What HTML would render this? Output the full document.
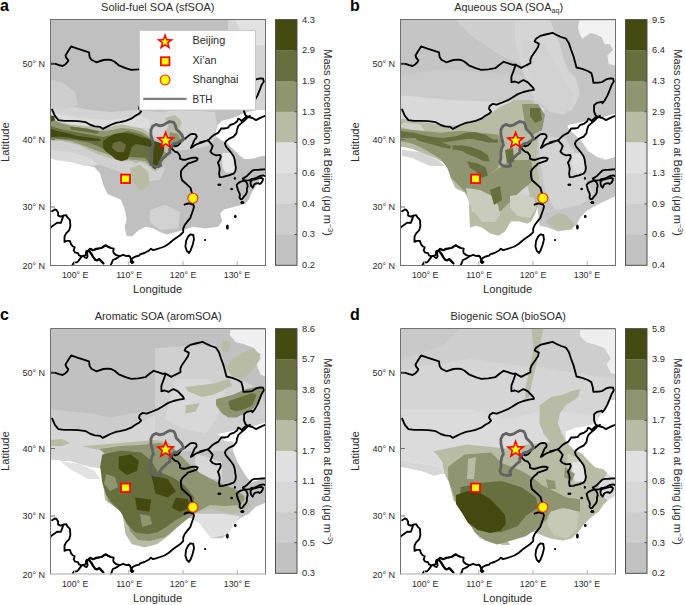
<!DOCTYPE html><html><head><meta charset="utf-8"><style>html,body{margin:0;padding:0;background:#fff;}svg{display:block;font-family:"Liberation Sans", sans-serif;}</style></head><body>
<svg width="685" height="605" viewBox="0 0 685 605">
<defs><clipPath id="clip"><rect x="50.5" y="19.5" width="215" height="246"/></clipPath>
<g id="mapcommon"><g fill="none" stroke="#000" stroke-width="1.85" stroke-linejoin="round" stroke-linecap="round">
<polyline points="50.0,63.9 52.8,63.7 55.6,63.9 59.1,65.1 62.6,66.0 65.5,64.2 67.6,61.8 68.3,60.4 66.2,57.6 65.5,55.5 67.6,52.0 71.1,46.4 78.1,48.8 83.7,50.6 89.0,52.3 89.6,56.9 91.4,59.7 96.3,62.3 103.4,60.0 107.6,59.7 111.1,60.0 114.6,61.8 118.8,65.3 125.6,68.2 131.2,69.8 138.3,69.3 145.3,68.2 149.5,64.7 153.7,61.8 157.9,63.2 162.1,64.7 165.7,64.7 171.3,67.9 176.2,65.3 180.4,63.2 180.4,59.7 181.8,56.2 185.3,51.3 188.1,47.1 188.8,43.6 184.6,41.5 186.0,38.7 190.2,35.9 195.6,34.5 202.6,32.8 206.9,35.2 211.1,37.0 216.0,38.7 218.8,42.9 220.9,49.2 223.7,56.9 226.5,67.5 232.2,68.9 237.8,71.0 241.3,73.1 242.7,78.0 243.4,82.9 249.0,82.5 251.8,82.2 256.0,79.4 260.2,78.3 263.1,78.7 263.8,81.5 261.6,85.0 259.5,90.7 257.4,95.6 254.6,100.5 252.5,103.3 251.8,101.8 246.9,102.9 244.1,105.3 244.1,111.6 245.5,115.2 248.3,117.0"/>
<polyline points="248.3,117.0 252.5,118.0 256.0,120.1 258.8,118.7 263.1,116.6 266.0,115.6"/>
<polyline points="165.7,64.7 163.5,71.0 161.4,76.6 161.4,82.2 164.9,81.5 168.5,82.9 170.6,81.5 173.4,80.1 177.6,82.2 180.4,85.0 183.2,87.8 183.9,89.9 179.0,90.6 173.4,92.0 167.8,94.1 162.1,97.7 158.6,99.8 152.3,102.5 146.7,104.6 142.5,103.9 139.7,106.0 139.0,108.8 141.1,111.6 139.0,113.8 135.4,115.8 131.2,118.7 125.6,120.8 120.0,122.2 116.0,122.9 110.4,125.0 106.2,127.1 102.7,128.8 99.9,126.8 94.9,126.4 90.7,125.0 85.8,122.2 78.1,121.2 71.1,120.8 64.0,120.8 58.4,120.1 54.9,115.8 52.1,109.5"/>
<polyline points="208.1,140.3 211.6,136.8 215.1,134.3 218.5,132.6 221.4,128.3 224.3,128.5 227.8,127.9 230.1,125.0 233.6,123.9 237.0,121.6 238.2,118.7 239.9,119.3 241.7,121.0 244.6,118.1 246.3,116.7"/>
<polyline points="208.1,140.3 211.0,143.6 212.7,145.9 211.6,148.8 210.4,151.7 212.7,154.0 216.2,155.4 220.2,154.9 220.8,156.9 219.7,159.8 217.9,162.7 219.1,165.6 219.7,169.0 219.1,173.7 219.7,177.1 223.2,176.9 225.5,176.2 228.9,175.4 233.6,173.7 235.3,171.3 235.9,167.9 235.3,164.4 234.7,159.8 233.6,156.3 231.2,152.8 228.9,149.9 226.0,146.5 224.9,143.6 226.0,141.2 228.9,138.9 233.6,136.6 236.5,133.2 237.0,129.7 238.2,126.2 240.5,123.9 244.0,121.0 247.4,117.5 250.0,115.8"/>
<polyline points="208.1,140.3 204.6,141.2 200.0,142.4 204.7,141.3 200.7,142.8 197.7,143.8 194.8,145.3 192.8,146.8 190.8,147.8 191.8,145.8 192.8,143.8 193.8,141.3 194.8,139.3 196.2,138.3 196.7,136.4 195.7,134.4 192.8,133.9 190.3,134.4 187.8,136.4 184.3,139.3 181.4,140.8 179.9,143.3 177.9,145.3 175.4,146.3 173.4,145.3 171.4,146.3 171.9,148.8 174.9,151.7 177.9,152.7 179.9,155.7 179.9,158.7 182.4,159.7 185.8,159.7 188.8,158.7 192.8,157.7 195.7,157.7 197.7,158.7 196.7,160.7 193.8,161.7 190.8,162.7 187.8,163.6 186.3,165.6 184.8,166.6 182.8,168.6 180.9,171.6 180.9,175.5 181.9,180.0 190.4,187.6 191.8,192.7 192.6,197.0 192.6,203.4 194.0,206.3 193.3,209.2 191.8,213.5 190.4,217.8 187.5,221.4 184.7,225.0 183.2,228.6 183.2,232.2 180.3,235.0 176.0,237.9 173.2,240.1 168.8,243.7 164.5,246.5 160.2,248.0 155.9,249.4 153.1,250.1 150.9,248.7 148.7,250.8 144.4,253.0 140.1,254.4 139.1,255.7 135.6,256.5 132.9,257.9 131.6,259.2 132.0,260.9 133.4,262.2 132.0,263.1 130.7,261.8 131.2,260.0 130.7,258.3 129.8,256.5 128.5,255.7 126.8,256.1 125.0,255.7 123.3,254.8 119.8,256.1 117.2,257.9 115.0,259.2 112.8,260.0 111.9,262.7 111.0,264.4 110.6,266.0"/>
<polyline points="129.8,256.5 128.5,255.7"/>
<polyline points="119.8,256.1 116.3,255.2 113.7,253.0 113.2,251.3 113.7,248.7 110.2,247.8 107.5,246.5 105.8,245.6 104.0,246.5 101.4,248.2 96.1,248.7 93.5,250.0 90.0,248.7 88.1,250.8 85.9,252.3 85.9,255.2 83.0,255.9"/>
<polyline points="90.0,252.2 91.8,253.9 93.5,257.4 95.3,260.0 97.0,260.5 98.8,259.2 100.5,260.0 102.3,261.8 103.6,263.5"/>
<polyline points="52.1,211.3 54.8,209.5 56.5,209.9 58.1,212.4 58.1,215.6 60.8,216.7 63.4,215.6 66.1,215.1 67.7,217.7 69.9,219.9 70.4,225.8 69.3,230.1 66.1,233.3 64.5,236.6 64.5,241.9 67.2,240.9 69.9,240.9 71.0,244.1 72.6,246.2 74.7,247.3 73.7,250.5 75.3,252.7 78.0,253.2 79.0,255.4 81.7,256.4 83.3,255.9 85.0,257.5 86.6,258.1 87.6,256.4 87.1,252.7 86.6,251.1"/>
<polyline points="50.0,229.0 51.1,226.9 54.3,224.7 57.5,222.6 60.8,222.8 61.8,220.4 63.4,215.6"/>
<polyline points="81.7,256.4 80.1,258.6 78.5,260.8 76.9,262.4 74.2,262.4 72.6,264.5"/>
<polyline points="87.1,251.4 89.8,251.6 90.9,253.8 93.0,257.0 95.2,259.7 97.3,260.2 99.5,258.9 100.5,260.8 103.2,263.4"/>
<polyline points="86.6,251.1 88.7,250.5 90.9,249.5 93.0,250.5 95.2,249.5 97.3,248.9 101.6,247.8 103.8,246.2 105.9,245.2 108.1,246.8 110.0,247.3"/>
<polyline points="264.7,169.3 261.4,169.5 258.1,169.9 254.8,169.9 252.3,170.7 249.8,173.2 247.3,175.7 244.8,177.4 242.8,178.6 244.0,180.2 246.5,180.7 249.8,180.2 251.4,179.0 253.9,178.6 256.4,177.8 258.9,176.5 261.4,175.7 263.8,175.5 265.1,176.1"/>
<polyline points="184.5,204.7 186.0,204.0 188.2,203.5 190.0,203.7 192.0,204.4"/>
<polygon points="190.4,234.3 193.3,235.0 194.0,239.3 192.6,245.1 190.4,250.8 189.0,253.0 186.8,250.8 185.4,246.5 186.1,240.8 188.2,236.5"/>
<polygon points="236.6,184.8 238.2,183.1 240.3,181.9 242.4,181.1 244.8,180.7 246.5,182.3 247.3,184.0 247.7,186.4 246.9,188.9 246.9,192.2 245.7,194.7 244.0,196.4 242.4,198.8 240.7,199.3 239.5,197.6 239.9,194.7 239.1,192.2 238.2,190.6 237.4,188.1"/>
<polygon points="250.6,181.5 252.3,179.8 254.8,179.4 257.2,178.6 259.7,178.2 261.4,177.8 263.0,179.0 262.6,180.7 261.4,182.7 259.7,184.0 258.1,183.1 255.6,183.6 253.9,184.8 252.7,187.7 251.4,186.4 250.6,184.0"/>
</g>
<g fill="#000">
<ellipse cx="219.4" cy="184.8" rx="2.0" ry="1.2"/>
<ellipse cx="231.7" cy="189.1" rx="1.2" ry="1.2"/>
<ellipse cx="235.3" cy="216.4" rx="1.3" ry="1.6"/>
<ellipse cx="227.4" cy="227.1" rx="1.4" ry="2.6"/>
<ellipse cx="205.1" cy="240.1" rx="1.1" ry="1.1"/>
<ellipse cx="242.4" cy="202.3" rx="1.6" ry="1.2"/>
<ellipse cx="234.9" cy="178.2" rx="1.0" ry="1.5"/>
<ellipse cx="231.6" cy="188.9" rx="1.1" ry="1.1"/>
<ellipse cx="242.4" cy="202.8" rx="2.0" ry="1.2"/>
</g>
<polygon points="150.9,129.9 152.9,125.9 155.9,124.4 159.8,125.9 163.8,124.9 166.8,122.9 169.8,121.5 173.7,122.4 175.2,124.9 176.2,128.9 178.7,131.4 181.7,134.8 183.6,138.8 180.7,140.8 177.7,142.8 173.7,143.8 171.7,145.7 169.8,148.7 169.8,152.7 166.8,154.7 164.8,156.7 161.8,159.6 159.8,162.6 160.8,165.6 158.8,166.6 153.9,166.1 150.9,164.6 149.9,161.6 150.9,158.6 150.9,152.7 151.9,147.7 153.4,145.2 152.9,142.8 151.9,138.8 150.9,134.8" fill="none" stroke="#626262" stroke-width="2.8" stroke-linejoin="round"/>
<polygon points="165.6,130.1 168.1,137.0 175.5,137.3 169.7,141.8 171.7,148.9 165.6,144.8 159.5,148.9 161.5,141.8 155.7,137.3 163.1,137.0" fill="#ff0000"/>
<polygon points="165.6,134.9 167.1,138.4 170.9,138.8 168.1,141.3 168.9,145.0 165.6,143.1 162.3,145.0 163.1,141.3 160.3,138.8 164.1,138.4" fill="#ffff00"/>
<rect x="121.1" y="174.6" width="8.9" height="8.4" fill="#ffff00" stroke="#ff0000" stroke-width="1.8"/>
<circle cx="192.9" cy="198.2" r="5.0" fill="#ffff00" stroke="#ff2000" stroke-width="1.1"/></g></defs>
<g transform="translate(0,0)">
<text x="0" y="11" font-size="16" font-weight="bold" fill="#000">a</text>
<text x="101.1" y="11.2" font-size="10.6" textLength="113.3" lengthAdjust="spacingAndGlyphs" fill="#2b2b2b">Solid-fuel SOA (sfSOA)</text>
<g clip-path="url(#clip)">
<rect x="50.5" y="19.5" width="215" height="246" fill="#c0c0c0"/>
<polygon points="50.0,104.0 70.0,106.0 90.0,110.0 110.0,112.0 140.0,110.0 160.0,112.0 180.0,110.0 215.0,112.0 217.0,125.0 214.0,134.0 216.0,137.0 210.0,145.0 200.0,148.0 185.0,150.0 175.0,150.0 160.0,140.0 140.0,135.0 100.0,135.0 50.0,130.0" fill="#d3d3d3"/>
<polygon points="50.0,112.0 80.0,118.0 110.0,120.0 140.0,116.0 150.0,120.0 150.0,128.0 100.0,128.0 50.0,124.0" fill="#dcdcdc"/>
<polygon points="50.0,135.0 100.0,150.0 125.0,158.0 150.0,165.0 165.0,168.0 160.0,180.0 140.0,182.0 120.0,172.0 100.0,165.0 80.0,158.0 50.0,152.0" fill="#d0d0d0"/>
<polygon points="228.0,19.0 266.0,19.0 266.0,110.0 256.0,110.0 256.0,30.0 228.0,30.0" fill="#d4d4d4"/>
<polygon points="235.0,19.0 266.0,19.0 266.0,45.0 256.0,45.0 256.0,30.0 240.0,30.0" fill="#e2e2e2"/>
<polygon points="50.0,80.0 62.0,82.0 75.0,92.0 78.0,105.0 65.0,108.0 50.0,106.0" fill="#cdcdcd"/>
<polygon points="50.0,155.0 59.6,157.0 78.7,164.0 94.1,167.0 99.8,173.0 103.7,186.0 107.5,194.0 120.9,199.8 124.7,209.4 126.7,219.0 124.7,226.7 126.7,236.2 132.4,236.2 138.2,230.5 145.8,226.7 153.5,228.6 160.0,232.0 166.5,234.4 181.8,230.5 193.3,226.7 204.8,228.6 218.3,226.7 222.1,220.9 220.2,213.3 224.0,209.4 231.7,207.5 239.4,205.6 245.1,203.7 248.9,199.8 250.9,194.1 254.7,188.3 260.4,178.8 266.0,173.0 266.0,266.0 50.0,266.0" fill="#ffffff"/>
<polygon points="50.0,150.0 70.0,152.0 90.0,158.0 98.0,165.0 85.0,166.0 70.0,162.0 55.0,160.0 50.0,158.0" fill="#dadada"/>
<polygon points="150.0,210.0 165.0,205.0 180.0,212.0 178.0,228.0 160.0,230.0 150.0,222.0" fill="#d2d2d2"/>
<polygon points="217.8,124.9 222.3,120.4 229.7,118.9 237.2,115.9 244.6,113.0 249.0,111.5 256.0,110.0 266.0,110.0 266.0,156.1 262.4,156.1 256.5,157.6 250.5,159.1 244.6,159.1 240.1,156.1 235.7,151.6 231.2,147.2 226.8,142.7 220.8,139.7 216.4,136.8 214.9,133.8 216.4,129.3" fill="#ffffff"/>
<polygon points="222.3,153.1 232.7,153.1 235.7,166.5 234.2,172.4 225.3,172.4 222.3,166.5" fill="#e6e6e6"/>
<polygon points="50.0,114.3 56.1,120.4 62.3,122.5 70.4,124.5 80.7,125.5 90.9,126.6 101.1,128.6 111.3,126.6 121.5,124.5 131.7,126.6 142.0,128.6 152.2,134.7 156.3,140.9 164.4,149.0 170.6,151.1 172.6,153.1 168.5,157.2 164.4,161.3 160.4,167.4 156.3,171.5 152.2,169.5 148.1,165.4 142.0,161.3 135.8,163.4 131.7,161.3 123.6,161.3 115.4,159.3 107.2,157.2 101.1,155.2 95.0,153.1 86.8,149.0 78.6,145.0 70.4,142.9 62.3,140.9 54.1,140.9 50.0,139.9" fill="#b8bca4"/>
<polygon points="165.0,118.0 175.0,115.0 182.0,122.0 178.0,132.0 170.0,130.0" fill="#b8bca4"/>
<polygon points="130.0,168.0 140.0,165.0 148.0,172.0 150.0,185.0 140.0,190.0 132.0,180.0" fill="#b8bca4"/>
<polygon points="50.0,118.0 60.0,123.0 75.0,127.0 90.0,129.0 101.0,131.0 112.0,130.0 122.0,128.0 132.0,129.0 142.0,132.0 150.0,137.0 156.0,143.0 163.0,150.0 167.0,154.0 163.0,160.0 158.0,167.0 152.0,166.0 145.0,161.0 135.0,160.0 124.0,159.0 114.0,157.0 104.0,153.0 95.0,150.0 85.0,146.0 70.0,141.0 55.0,139.0 50.0,139.0" fill="#8e9570"/>
<polygon points="50.0,126.0 60.0,129.0 75.0,132.0 92.0,135.0 103.0,137.0 115.0,134.0 128.0,131.0 140.0,134.0 150.0,139.0 157.0,146.0 162.0,152.0 158.0,162.0 153.0,165.0 145.0,158.0 132.0,157.0 122.0,158.0 110.0,154.0 100.0,147.0 90.0,143.0 75.0,140.0 60.0,139.0 50.0,138.0" fill="#686f3e"/>
<polygon points="168.0,126.0 178.0,128.0 184.0,134.0 184.0,142.0 178.0,147.0 170.0,150.0 164.0,146.0 165.0,134.0" fill="#b8bca4"/>
<polygon points="170.0,132.0 178.0,134.0 181.0,140.0 175.0,145.0 168.0,143.0" fill="#8e9570"/>
<polygon points="50.0,128.6 56.1,130.7 66.3,132.7 76.6,135.8 90.9,137.8 99.1,138.8 101.1,140.9 90.9,140.9 80.7,139.9 70.4,137.8 60.2,136.8 50.0,136.8" fill="#434a10"/>
<polygon points="50.0,115.3 54.1,116.3 55.1,120.4 50.0,121.5" fill="#434a10"/>
<polygon points="103.1,140.9 109.3,136.8 115.4,133.7 123.6,132.7 131.7,133.7 139.9,136.8 148.1,138.8 152.2,140.9 154.2,145.0 150.1,147.0 142.0,145.0 135.8,143.9 131.7,147.0 129.7,153.1 127.7,159.3 121.5,161.3 115.4,159.3 111.3,155.2 105.2,151.1 103.1,147.0" fill="#434a10"/>
<polygon points="113.0,143.0 120.0,141.0 126.0,145.0 124.0,152.0 117.0,152.0 112.0,148.0" fill="#686f3e"/>
<polygon points="154.2,140.9 160.4,142.9 164.4,147.0 163.4,153.1 160.4,159.3 158.3,165.4 155.3,169.5 152.2,167.4 153.2,159.3 153.2,151.1" fill="#434a10"/>
<polygon points="70.4,126.6 86.8,128.6 99.1,131.7 97.0,133.7 84.7,131.7 70.4,129.6" fill="#686f3e"/>
<use href="#mapcommon"/>
</g>
<g stroke="#707070" stroke-width="1">
<line x1="50.5" y1="64" x2="55" y2="64"/>
<line x1="50.5" y1="139.5" x2="55" y2="139.5"/>
<line x1="50.5" y1="207" x2="55" y2="207"/>
<line x1="74.5" y1="265.5" x2="74.5" y2="261" stroke="#b0b0b0"/>
<line x1="128.7" y1="265.5" x2="128.7" y2="261" stroke="#b0b0b0"/>
<line x1="183" y1="265.5" x2="183" y2="261" stroke="#b0b0b0"/>
<line x1="237.3" y1="265.5" x2="237.3" y2="261" stroke="#b0b0b0"/>
</g>
<rect x="50.5" y="19.5" width="215" height="246" fill="none" stroke="#707070" stroke-width="1"/>
<text x="45" y="67.2" font-size="9" text-anchor="end" fill="#2b2b2b">50° N</text>
<text x="45" y="143.2" font-size="9" text-anchor="end" fill="#2b2b2b">40° N</text>
<text x="45" y="210.2" font-size="9" text-anchor="end" fill="#2b2b2b">30° N</text>
<text x="45" y="269.2" font-size="9" text-anchor="end" fill="#2b2b2b">20° N</text>
<text x="75.2" y="277.6" font-size="8.8" text-anchor="middle" fill="#2b2b2b">100° E</text>
<text x="129.3" y="277.6" font-size="8.8" text-anchor="middle" fill="#2b2b2b">110° E</text>
<text x="183.1" y="277.6" font-size="8.8" text-anchor="middle" fill="#2b2b2b">120° E</text>
<text x="237" y="277.6" font-size="8.8" text-anchor="middle" fill="#2b2b2b">130° E</text>
<text x="133.0" y="292.8" font-size="10.4" textLength="49.2" lengthAdjust="spacingAndGlyphs" fill="#2b2b2b">Longitude</text>
<text transform="translate(9.1,161.9) rotate(-90)" font-size="10.4" textLength="39.6" lengthAdjust="spacingAndGlyphs" fill="#2b2b2b">Latitude</text>
<rect x="275.5" y="19.60" width="21.5" height="31.01" fill="#434a10"/>
<rect x="275.5" y="50.31" width="21.5" height="31.01" fill="#686f3e"/>
<rect x="275.5" y="81.03" width="21.5" height="31.01" fill="#8e9570"/>
<rect x="275.5" y="111.74" width="21.5" height="31.01" fill="#b8bca4"/>
<rect x="275.5" y="142.45" width="21.5" height="31.01" fill="#e1e1e1"/>
<rect x="275.5" y="173.16" width="21.5" height="31.01" fill="#d7d7d7"/>
<rect x="275.5" y="203.88" width="21.5" height="31.01" fill="#cdcdcd"/>
<rect x="275.5" y="234.59" width="21.5" height="31.01" fill="#c2c2c2"/>
<rect x="275.5" y="19.6" width="21.5" height="245.7" fill="none" stroke="#505050" stroke-width="1"/>
<line x1="294.5" y1="50.31" x2="297" y2="50.31" stroke="#505050" stroke-width="1"/>
<line x1="294.5" y1="81.03" x2="297" y2="81.03" stroke="#505050" stroke-width="1"/>
<line x1="294.5" y1="111.74" x2="297" y2="111.74" stroke="#505050" stroke-width="1"/>
<line x1="294.5" y1="142.45" x2="297" y2="142.45" stroke="#505050" stroke-width="1"/>
<line x1="294.5" y1="173.16" x2="297" y2="173.16" stroke="#505050" stroke-width="1"/>
<line x1="294.5" y1="203.88" x2="297" y2="203.88" stroke="#505050" stroke-width="1"/>
<line x1="294.5" y1="234.59" x2="297" y2="234.59" stroke="#505050" stroke-width="1"/>
<text x="302" y="22.50" font-size="9.3" fill="#2b2b2b">4.3</text>
<text x="302" y="53.21" font-size="9.3" fill="#2b2b2b">2.9</text>
<text x="302" y="83.93" font-size="9.3" fill="#2b2b2b">1.9</text>
<text x="302" y="114.64" font-size="9.3" fill="#2b2b2b">1.3</text>
<text x="302" y="145.35" font-size="9.3" fill="#2b2b2b">0.9</text>
<text x="302" y="176.06" font-size="9.3" fill="#2b2b2b">0.6</text>
<text x="302" y="206.78" font-size="9.3" fill="#2b2b2b">0.4</text>
<text x="302" y="237.49" font-size="9.3" fill="#2b2b2b">0.3</text>
<text x="302" y="268.20" font-size="9.3" fill="#2b2b2b">0.2</text>
<text transform="translate(324.0,49.3) rotate(90)" font-size="10.4" textLength="186.6" lengthAdjust="spacingAndGlyphs" fill="#2b2b2b">Mass concentration at Beijing (μg m<tspan font-size="7" dy="-3.5">−3</tspan><tspan dy="3.5">)</tspan></text>
<rect x="139.5" y="30.5" width="116" height="79.5" fill="#fff" stroke="#c8c8c8" stroke-width="1"/>
<polygon points="165.1,33.0 167.3,39.0 173.7,39.2 168.6,43.1 170.4,49.3 165.1,45.7 159.8,49.3 161.6,43.1 156.5,39.2 162.9,39.0" fill="#ff0000"/>
<polygon points="165.1,37.6 166.3,40.4 169.3,40.6 167.0,42.6 167.7,45.6 165.1,44.0 162.5,45.6 163.2,42.6 160.9,40.6 163.9,40.4" fill="#ffff00"/>
<rect x="160.9" y="57.2" width="8.6" height="8.2" fill="#ffff00" stroke="#ff0000" stroke-width="1.7"/>
<circle cx="165.1" cy="79.9" r="4.9" fill="#ffff00" stroke="#ff2000" stroke-width="1.1"/>
<line x1="143.2" y1="98.9" x2="186.6" y2="98.9" stroke="#808080" stroke-width="2.2"/>
<text x="192.6" y="44.2" font-size="10.4" textLength="32.6" lengthAdjust="spacingAndGlyphs" fill="#2b2b2b">Beijing</text>
<text x="192.6" y="63.7" font-size="10.4" textLength="24.0" lengthAdjust="spacingAndGlyphs" fill="#2b2b2b">Xi’an</text>
<text x="192.6" y="83.2" font-size="10.4" textLength="45.9" lengthAdjust="spacingAndGlyphs" fill="#2b2b2b">Shanghai</text>
<text x="192.6" y="102.5" font-size="10.4" textLength="19.8" lengthAdjust="spacingAndGlyphs" fill="#2b2b2b">BTH</text>
</g>
<g transform="translate(350,0)">
<text x="0" y="11" font-size="16" font-weight="bold" fill="#000">b</text>
<text x="104.2" y="11.2" font-size="10.6" textLength="108.8" lengthAdjust="spacingAndGlyphs" fill="#2b2b2b">Aqueous SOA (SOA<tspan font-size="7" dy="2.2">aq</tspan><tspan dy="-2.2">)</tspan></text>
<g clip-path="url(#clip)">
<rect x="50.5" y="19.5" width="215" height="246" fill="#c0c0c0"/>
<polygon points="50.0,19.0 266.0,19.0 266.0,266.0 50.0,266.0" fill="#c5c5c5"/>
<polygon points="105.0,19.0 190.0,19.0 200.0,60.0 185.0,70.0 150.0,55.0 120.0,35.0" fill="#cfcfcf"/>
<polygon points="50.0,75.0 90.0,70.0 130.0,72.0 170.0,75.0 190.0,85.0 200.0,100.0 180.0,112.0 140.0,112.0 100.0,112.0 50.0,110.0" fill="#cbcbcb"/>
<polygon points="50.0,95.0 100.0,100.0 150.0,102.0 175.0,100.0 195.0,108.0 190.0,125.0 150.0,128.0 100.0,125.0 50.0,125.0" fill="#d9d9d9"/>
<polygon points="165.0,19.0 200.0,19.0 205.0,33.0 210.0,45.0 214.0,60.0 218.0,70.0 226.0,78.0 230.0,95.0 222.0,110.0 205.0,112.0 185.0,100.0 172.0,70.0 165.0,40.0" fill="#d5d5d5"/>
<polygon points="229.3,20.4 264.5,20.4 266.0,20.0 266.0,65.4 258.8,64.0 257.4,55.5 263.0,49.9 260.2,44.3 254.6,44.3 251.8,37.3 246.2,34.5 240.6,33.0 232.1,38.7 229.3,33.0 227.9,27.4" fill="#f2f2f2"/>
<polygon points="170.0,40.0 195.0,45.0 205.0,65.0 215.0,80.0 225.0,95.0 215.0,115.0 200.0,112.0 185.0,95.0" fill="#d2d2d2"/>
<polygon points="188.0,135.0 215.0,138.0 230.0,160.0 236.0,180.0 245.0,195.0 230.0,205.0 205.0,210.0 195.0,190.0 190.0,160.0" fill="#d3d3d3"/>
<polygon points="50.0,146.2 61.6,148.6 73.1,153.2 84.7,157.8 93.9,162.4 98.6,169.4 100.9,178.6 105.5,187.9 114.7,192.5 119.0,200.0 120.0,227.4 126.1,225.4 132.3,227.4 140.4,233.6 148.6,235.6 154.7,231.5 160.9,221.3 169.0,221.3 177.2,223.4 181.3,221.3 185.4,213.1 187.4,207.0 189.5,225.4 197.7,227.4 207.9,231.5 218.1,229.5 226.3,225.4 230.4,217.2 236.5,211.1 246.7,205.0 260.0,198.8 266.0,196.0 266.0,266.0 50.0,266.0" fill="#ffffff"/>
<polygon points="52.0,150.0 70.0,152.0 88.0,160.0 95.0,166.0 80.0,166.0 62.0,158.0 52.0,156.0" fill="#d5d5d5"/>
<polygon points="217.8,124.9 232.3,122.0 246.8,119.1 266.0,113.2 266.0,156.8 255.5,159.7 246.8,156.8 238.1,151.0 232.3,142.3 223.6,133.6 217.8,127.8" fill="#ffffff"/>
<polygon points="222.3,153.1 232.7,153.1 235.7,166.5 234.2,172.4 225.3,172.4 222.3,166.5" fill="#dedede"/>
<polygon points="50.0,118.4 62.3,120.4 74.5,122.5 90.9,124.5 103.1,128.6 111.3,125.5 121.5,122.5 131.7,118.4 139.9,114.3 148.1,108.2 156.3,104.1 164.4,100.0 180.8,100.0 190.0,108.2 190.0,125.0 188.0,140.0 186.0,160.0 190.0,185.0 192.0,196.0 187.4,207.0 185.4,213.1 181.3,221.3 177.2,223.4 169.0,221.3 160.9,221.3 154.7,231.5 148.6,235.6 140.4,233.6 132.3,227.4 126.1,225.4 120.0,227.4 119.0,200.0 114.7,192.5 105.5,187.9 100.9,178.6 98.6,169.4 93.9,162.4 84.7,157.8 73.1,153.2 61.6,148.6 50.0,146.2" fill="#b8bca4"/>
<polygon points="195.6,221.3 207.9,213.1 216.1,215.2 224.2,223.4 222.2,229.5 212.0,230.5 201.7,227.4" fill="#b8bca4"/>
<polygon points="54.1,122.5 70.4,124.5 74.5,130.7 62.3,130.7 50.0,126.6" fill="#cfd1c6"/>
<polygon points="120.0,188.0 132.0,190.0 130.0,210.0 122.0,212.0" fill="#d2d2d2"/>
<polygon points="160.0,185.0 175.0,178.0 180.0,195.0 170.0,200.0" fill="#d6d6d6"/>
<polygon points="50.0,128.6 70.4,130.7 90.9,132.7 111.3,130.7 131.7,132.7 148.1,134.7 152.2,140.9 150.1,157.2 148.1,167.4 135.8,177.7 127.7,185.8 117.4,189.9 160.9,160.0 181.3,160.0 183.4,180.4 171.1,190.7 160.9,200.9 150.7,211.1 136.3,211.1 126.1,200.9 120.0,196.8 101.1,177.7 97.0,167.4 90.9,159.3 80.7,153.1 70.4,147.0 60.2,142.9 50.0,140.9" fill="#8e9570"/>
<polygon points="172.0,104.0 188.0,104.0 195.0,115.0 192.0,130.0 182.0,135.0 175.0,125.0" fill="#8e9570"/>
<polygon points="116.0,188.0 130.0,190.0 142.0,196.0 148.0,205.0 150.0,215.0 145.0,222.0 132.0,222.0 124.0,212.0 118.0,200.0" fill="#c9ccbc"/>
<polygon points="160.0,196.0 172.0,194.0 184.0,198.0 186.0,208.0 180.0,218.0 168.0,216.0 160.0,208.0" fill="#cdcfc3"/>
<polygon points="50.0,131.0 64.0,132.8 78.0,136.3 93.8,138.0 106.0,136.3 116.6,132.8 125.3,131.9 134.1,135.4 141.1,138.9 148.1,139.8 148.1,142.4 141.1,142.4 134.1,140.7 125.3,138.0 116.6,138.9 106.0,140.7 93.8,142.4 78.0,140.7 64.0,138.0 50.0,138.0" fill="#686f3e"/>
<polygon points="102.6,145.0 116.6,146.8 127.1,149.4 134.1,153.8 132.3,157.3 125.3,153.8 114.8,151.2 102.6,149.4" fill="#686f3e"/>
<polygon points="66.3,135.8 80.7,138.8 90.9,141.9 101.1,146.0 100.1,149.0 90.9,147.0 80.7,143.9 66.3,139.9" fill="#686f3e"/>
<polygon points="111.3,134.7 123.6,132.7 135.8,134.7 142.0,138.8 139.9,142.9 131.7,140.9 121.5,138.8 113.4,138.8" fill="#686f3e"/>
<polygon points="109.3,145.0 121.5,147.0 131.7,151.1 137.9,155.2 139.9,161.3 133.8,161.3 125.6,157.2 115.4,153.1 109.3,149.0" fill="#686f3e"/>
<polygon points="117.4,161.3 127.7,163.4 135.8,167.4 137.9,175.6 131.7,177.7 125.6,171.5 119.5,167.4" fill="#686f3e"/>
<polygon points="180.0,108.0 190.0,108.0 192.0,120.0 185.0,123.0 180.0,116.0" fill="#686f3e"/>
<polygon points="155.0,150.0 163.0,148.0 164.0,162.0 157.0,163.0" fill="#686f3e"/>
<polygon points="140.0,190.0 150.0,186.0 152.0,200.0 144.0,205.0" fill="#686f3e"/>
<use href="#mapcommon"/>
</g>
<g stroke="#707070" stroke-width="1">
<line x1="50.5" y1="64" x2="55" y2="64"/>
<line x1="50.5" y1="139.5" x2="55" y2="139.5"/>
<line x1="50.5" y1="207" x2="55" y2="207"/>
<line x1="74.5" y1="265.5" x2="74.5" y2="261" stroke="#b0b0b0"/>
<line x1="128.7" y1="265.5" x2="128.7" y2="261" stroke="#b0b0b0"/>
<line x1="183" y1="265.5" x2="183" y2="261" stroke="#b0b0b0"/>
<line x1="237.3" y1="265.5" x2="237.3" y2="261" stroke="#b0b0b0"/>
</g>
<rect x="50.5" y="19.5" width="215" height="246" fill="none" stroke="#707070" stroke-width="1"/>
<text x="45" y="67.2" font-size="9" text-anchor="end" fill="#2b2b2b">50° N</text>
<text x="45" y="143.2" font-size="9" text-anchor="end" fill="#2b2b2b">40° N</text>
<text x="45" y="210.2" font-size="9" text-anchor="end" fill="#2b2b2b">30° N</text>
<text x="45" y="269.2" font-size="9" text-anchor="end" fill="#2b2b2b">20° N</text>
<text x="75.2" y="277.6" font-size="8.8" text-anchor="middle" fill="#2b2b2b">100° E</text>
<text x="129.3" y="277.6" font-size="8.8" text-anchor="middle" fill="#2b2b2b">110° E</text>
<text x="183.1" y="277.6" font-size="8.8" text-anchor="middle" fill="#2b2b2b">120° E</text>
<text x="237" y="277.6" font-size="8.8" text-anchor="middle" fill="#2b2b2b">130° E</text>
<text x="133.0" y="292.8" font-size="10.4" textLength="49.2" lengthAdjust="spacingAndGlyphs" fill="#2b2b2b">Longitude</text>
<text transform="translate(9.1,161.9) rotate(-90)" font-size="10.4" textLength="39.6" lengthAdjust="spacingAndGlyphs" fill="#2b2b2b">Latitude</text>
<rect x="275.5" y="19.60" width="21.5" height="31.01" fill="#434a10"/>
<rect x="275.5" y="50.31" width="21.5" height="31.01" fill="#686f3e"/>
<rect x="275.5" y="81.03" width="21.5" height="31.01" fill="#8e9570"/>
<rect x="275.5" y="111.74" width="21.5" height="31.01" fill="#b8bca4"/>
<rect x="275.5" y="142.45" width="21.5" height="31.01" fill="#e1e1e1"/>
<rect x="275.5" y="173.16" width="21.5" height="31.01" fill="#d7d7d7"/>
<rect x="275.5" y="203.88" width="21.5" height="31.01" fill="#cdcdcd"/>
<rect x="275.5" y="234.59" width="21.5" height="31.01" fill="#c2c2c2"/>
<rect x="275.5" y="19.6" width="21.5" height="245.7" fill="none" stroke="#505050" stroke-width="1"/>
<line x1="294.5" y1="50.31" x2="297" y2="50.31" stroke="#505050" stroke-width="1"/>
<line x1="294.5" y1="81.03" x2="297" y2="81.03" stroke="#505050" stroke-width="1"/>
<line x1="294.5" y1="111.74" x2="297" y2="111.74" stroke="#505050" stroke-width="1"/>
<line x1="294.5" y1="142.45" x2="297" y2="142.45" stroke="#505050" stroke-width="1"/>
<line x1="294.5" y1="173.16" x2="297" y2="173.16" stroke="#505050" stroke-width="1"/>
<line x1="294.5" y1="203.88" x2="297" y2="203.88" stroke="#505050" stroke-width="1"/>
<line x1="294.5" y1="234.59" x2="297" y2="234.59" stroke="#505050" stroke-width="1"/>
<text x="302" y="22.50" font-size="9.3" fill="#2b2b2b">9.5</text>
<text x="302" y="53.21" font-size="9.3" fill="#2b2b2b">6.4</text>
<text x="302" y="83.93" font-size="9.3" fill="#2b2b2b">4.3</text>
<text x="302" y="114.64" font-size="9.3" fill="#2b2b2b">2.9</text>
<text x="302" y="145.35" font-size="9.3" fill="#2b2b2b">1.9</text>
<text x="302" y="176.06" font-size="9.3" fill="#2b2b2b">1.3</text>
<text x="302" y="206.78" font-size="9.3" fill="#2b2b2b">0.9</text>
<text x="302" y="237.49" font-size="9.3" fill="#2b2b2b">0.6</text>
<text x="302" y="268.20" font-size="9.3" fill="#2b2b2b">0.4</text>
<text transform="translate(324.0,49.3) rotate(90)" font-size="10.4" textLength="186.6" lengthAdjust="spacingAndGlyphs" fill="#2b2b2b">Mass concentration at Beijing (μg m<tspan font-size="7" dy="-3.5">−3</tspan><tspan dy="3.5">)</tspan></text>
</g>
<g transform="translate(0,309)">
<text x="0" y="11" font-size="16" font-weight="bold" fill="#000">c</text>
<text x="94.7" y="11.2" font-size="10.6" textLength="127.0" lengthAdjust="spacingAndGlyphs" fill="#2b2b2b">Aromatic SOA (aromSOA)</text>
<g clip-path="url(#clip)">
<rect x="50.5" y="19.5" width="215" height="246" fill="#c0c0c0"/>
<polygon points="50.0,19.0 266.0,19.0 266.0,266.0 50.0,266.0" fill="#c1c1c1"/>
<polygon points="50.0,100.3 70.3,102.4 90.7,104.4 111.0,108.5 131.3,104.4 160.0,100.3 160.0,141.0 50.0,141.0" fill="#cccccc"/>
<polygon points="50.0,108.5 58.1,118.6 70.3,120.7 86.6,122.7 103.9,128.8 117.1,122.7 127.3,121.7 135.4,117.6 140.5,112.9 160.0,104.4 160.0,142.0 50.0,142.0" fill="#d6d6d6"/>
<polygon points="155.0,39.3 185.5,37.3 216.0,35.3 226.2,59.7 242.4,71.9 260.7,80.0 266.0,100.3 266.0,142.0 155.0,142.0" fill="#d0d0d0"/>
<polygon points="175.3,69.8 205.8,69.8 226.2,80.0 216.0,110.5 205.8,124.7 185.5,120.6 165.2,110.5" fill="#d8d8d8"/>
<polygon points="230.2,21.0 266.0,21.0 266.0,67.8 260.7,65.8 256.6,55.6 260.7,49.5 254.6,39.3 244.4,35.3 236.3,33.2 230.2,27.1" fill="#f0f0f0"/>
<polygon points="222.1,31.2 230.2,33.2 228.2,43.4 222.1,41.4" fill="#b8bca4"/>
<polygon points="232.3,49.5 252.6,39.3 260.7,45.4 256.6,55.6 250.5,63.7 242.4,69.8 232.3,67.8 226.2,59.7" fill="#b8bca4"/>
<polygon points="185.5,78.0 201.8,75.9 216.0,73.9 228.2,69.8 232.3,75.9 222.1,82.0 211.9,86.1 201.8,88.1 187.5,82.0" fill="#b8bca4"/>
<polygon points="185.5,96.3 199.7,94.2 195.7,102.4 185.5,104.4" fill="#b8bca4"/>
<polygon points="216.0,90.2 232.3,86.1 246.5,80.0 256.6,78.0 262.7,80.0 258.7,92.2 252.6,100.3 244.4,104.4 236.3,108.4 228.2,108.4 222.1,104.4 216.0,96.3" fill="#8e9570"/>
<polygon points="228.2,92.2 240.4,88.1 252.6,84.1 256.6,86.1 252.6,96.3 244.4,100.3 236.3,102.4 230.2,100.3" fill="#686f3e"/>
<polygon points="233.2,131.0 266.0,131.0 266.0,169.0 251.0,173.4 244.3,164.5 237.6,153.3 233.2,142.2" fill="#ffffff"/>
<polygon points="217.8,124.9 232.3,122.0 246.8,119.1 266.0,113.2 266.0,135.0 240.0,133.0 225.0,132.0" fill="#ffffff"/>
<polygon points="193.0,204.7 222.0,204.7 239.9,206.9 230.9,224.8 210.8,229.3 193.0,224.8" fill="#e1e1e1"/>
<polygon points="195.2,144.4 222.0,153.3 222.0,171.2 206.4,169.0 195.2,164.5" fill="#d7d7d7"/>
<polygon points="50.0,150.0 65.0,152.0 106.8,143.6 105.2,162.5 103.6,178.3 105.2,190.9 122.5,203.5 125.7,225.6 132.0,235.1 144.6,238.2 157.2,235.1 169.8,225.6 179.3,216.1 185.6,206.7 192.0,210.0 200.0,215.0 210.8,229.3 222.0,229.3 228.7,224.8 233.2,215.9 239.9,209.2 248.8,204.7 255.5,198.0 266.0,193.5 266.0,266.1 155.0,266.1 50.0,266.0" fill="#ffffff"/>
<polygon points="50.0,135.0 81.5,137.3 106.8,143.6 105.0,160.0 90.0,158.0 70.0,152.0 50.0,150.0" fill="#d6d6d6"/>
<polygon points="60.0,152.0 80.0,155.0 95.0,162.0 100.0,170.0 88.0,170.0 70.0,160.0" fill="#e2e2e2"/>
<polygon points="81.5,137.3 95.0,140.0 106.8,143.6 105.2,162.5 103.6,178.3 105.2,190.9 122.5,203.5 125.7,225.6 132.0,235.1 144.6,238.2 157.2,235.1 169.8,225.6 179.3,216.1 185.6,206.7 188.5,206.9 199.7,202.5 210.8,200.2 222.0,202.5 233.2,204.7 244.3,202.5 251.0,195.8 244.3,189.1 233.2,184.6 217.5,175.7 199.7,164.5 188.5,153.3 177.3,142.2 168.4,133.2 155.0,131.0" fill="#b8bca4"/>
<polygon points="50.0,131.0 62.0,130.0 70.0,134.0 62.0,137.0 50.0,137.0" fill="#b8bca4"/>
<polygon points="100.0,140.0 120.0,137.0 140.0,136.0 160.0,134.0 172.0,138.0 180.0,146.0 190.0,156.0 200.0,164.0 215.0,172.0 235.0,180.0 245.0,188.0 238.0,196.0 225.0,197.0 210.0,196.0 195.0,204.0 185.0,212.0 175.0,220.0 165.0,228.0 150.0,232.0 138.0,231.0 130.0,222.0 126.0,210.0 118.0,200.0 108.0,192.0 106.0,178.0 107.0,160.0 106.0,146.0" fill="#8e9570"/>
<polygon points="102.3,145.5 120.7,141.4 141.1,143.5 151.3,151.7 157.4,161.9 171.7,168.0 182.0,174.1 188.1,180.3 194.2,188.4 192.2,202.7 184.0,206.8 175.8,210.9 167.7,217.1 157.4,223.2 147.2,225.2 135.0,223.2 126.8,215.0 120.7,202.7 112.5,194.6 106.3,186.4 102.3,174.1 100.2,157.8" fill="#686f3e"/>
<polygon points="106.0,165.0 115.0,168.0 118.0,178.0 110.0,182.0 104.0,175.0" fill="#8e9570"/>
<polygon points="140.0,205.0 150.0,207.0 152.0,215.0 142.0,218.0" fill="#8e9570"/>
<polygon points="160.0,150.0 170.0,155.0 172.0,165.0 162.0,162.0" fill="#8e9570"/>
<polygon points="118.6,147.6 130.9,145.5 139.0,151.7 137.0,161.9 126.8,166.0 118.6,159.8" fill="#434a10"/>
<polygon points="151.3,166.0 167.7,170.0 175.8,182.3 167.7,188.4 155.4,184.4" fill="#434a10"/>
<polygon points="175.8,188.4 188.1,190.5 190.1,198.7 179.9,202.7 171.7,198.7" fill="#434a10"/>
<polygon points="135.0,188.4 151.3,190.5 149.3,202.7 137.0,200.7" fill="#434a10"/>
<polygon points="196.3,178.2 212.6,180.3 230.0,182.3 245.0,190.0 240.0,196.0 230.0,192.0 212.6,190.5 200.4,192.5" fill="#8e9570"/>
<use href="#mapcommon"/>
</g>
<g stroke="#707070" stroke-width="1">
<line x1="50.5" y1="64" x2="55" y2="64"/>
<line x1="50.5" y1="139.5" x2="55" y2="139.5"/>
<line x1="50.5" y1="207" x2="55" y2="207"/>
<line x1="74.5" y1="265.5" x2="74.5" y2="261" stroke="#b0b0b0"/>
<line x1="128.7" y1="265.5" x2="128.7" y2="261" stroke="#b0b0b0"/>
<line x1="183" y1="265.5" x2="183" y2="261" stroke="#b0b0b0"/>
<line x1="237.3" y1="265.5" x2="237.3" y2="261" stroke="#b0b0b0"/>
</g>
<path d="M50.5,265.5 V19.5 H265.5 V265.5" fill="none" stroke="#707070" stroke-width="1"/>
<line x1="50.5" y1="264.9" x2="265.5" y2="264.9" stroke="#c0c0c0" stroke-width="1.2"/>
<text x="45" y="67.2" font-size="9" text-anchor="end" fill="#2b2b2b">50° N</text>
<text x="45" y="143.2" font-size="9" text-anchor="end" fill="#2b2b2b">40° N</text>
<text x="45" y="210.2" font-size="9" text-anchor="end" fill="#2b2b2b">30° N</text>
<text x="45" y="269.2" font-size="9" text-anchor="end" fill="#2b2b2b">20° N</text>
<text x="75.2" y="277.6" font-size="8.8" text-anchor="middle" fill="#2b2b2b">100° E</text>
<text x="129.3" y="277.6" font-size="8.8" text-anchor="middle" fill="#2b2b2b">110° E</text>
<text x="183.1" y="277.6" font-size="8.8" text-anchor="middle" fill="#2b2b2b">120° E</text>
<text x="237" y="277.6" font-size="8.8" text-anchor="middle" fill="#2b2b2b">130° E</text>
<text x="133.0" y="292.8" font-size="10.4" textLength="49.2" lengthAdjust="spacingAndGlyphs" fill="#2b2b2b">Longitude</text>
<text transform="translate(9.1,161.9) rotate(-90)" font-size="10.4" textLength="39.6" lengthAdjust="spacingAndGlyphs" fill="#2b2b2b">Latitude</text>
<rect x="275.5" y="19.60" width="21.5" height="30.89" fill="#434a10"/>
<rect x="275.5" y="50.19" width="21.5" height="30.89" fill="#686f3e"/>
<rect x="275.5" y="80.78" width="21.5" height="30.89" fill="#8e9570"/>
<rect x="275.5" y="111.36" width="21.5" height="30.89" fill="#b8bca4"/>
<rect x="275.5" y="141.95" width="21.5" height="30.89" fill="#e1e1e1"/>
<rect x="275.5" y="172.54" width="21.5" height="30.89" fill="#d7d7d7"/>
<rect x="275.5" y="203.12" width="21.5" height="30.89" fill="#cdcdcd"/>
<rect x="275.5" y="233.71" width="21.5" height="30.89" fill="#c2c2c2"/>
<rect x="275.5" y="19.6" width="21.5" height="244.7" fill="none" stroke="#505050" stroke-width="1"/>
<line x1="294.5" y1="50.19" x2="297" y2="50.19" stroke="#505050" stroke-width="1"/>
<line x1="294.5" y1="80.78" x2="297" y2="80.78" stroke="#505050" stroke-width="1"/>
<line x1="294.5" y1="111.36" x2="297" y2="111.36" stroke="#505050" stroke-width="1"/>
<line x1="294.5" y1="141.95" x2="297" y2="141.95" stroke="#505050" stroke-width="1"/>
<line x1="294.5" y1="172.54" x2="297" y2="172.54" stroke="#505050" stroke-width="1"/>
<line x1="294.5" y1="203.12" x2="297" y2="203.12" stroke="#505050" stroke-width="1"/>
<line x1="294.5" y1="233.71" x2="297" y2="233.71" stroke="#505050" stroke-width="1"/>
<text x="302" y="22.50" font-size="9.3" fill="#2b2b2b">8.6</text>
<text x="302" y="53.09" font-size="9.3" fill="#2b2b2b">5.7</text>
<text x="302" y="83.68" font-size="9.3" fill="#2b2b2b">3.8</text>
<text x="302" y="114.26" font-size="9.3" fill="#2b2b2b">2.6</text>
<text x="302" y="144.85" font-size="9.3" fill="#2b2b2b">1.7</text>
<text x="302" y="175.44" font-size="9.3" fill="#2b2b2b">1.1</text>
<text x="302" y="206.03" font-size="9.3" fill="#2b2b2b">0.8</text>
<text x="302" y="236.61" font-size="9.3" fill="#2b2b2b">0.5</text>
<text x="302" y="267.20" font-size="9.3" fill="#2b2b2b">0.3</text>
<text transform="translate(324.0,49.3) rotate(90)" font-size="10.4" textLength="186.6" lengthAdjust="spacingAndGlyphs" fill="#2b2b2b">Mass concentration at Beijing (μg m<tspan font-size="7" dy="-3.5">−3</tspan><tspan dy="3.5">)</tspan></text>
</g>
<g transform="translate(350,309)">
<text x="0" y="11" font-size="16" font-weight="bold" fill="#000">d</text>
<text x="100.5" y="11.2" font-size="10.6" textLength="115.4" lengthAdjust="spacingAndGlyphs" fill="#2b2b2b">Biogenic SOA (bioSOA)</text>
<g clip-path="url(#clip)">
<rect x="50.5" y="19.5" width="215" height="246" fill="#c0c0c0"/>
<polygon points="50.0,19.0 266.0,19.0 266.0,266.0 50.0,266.0" fill="#cecece"/>
<polygon points="50.0,60.0 120.0,50.0 200.0,60.0 266.0,70.0 266.0,266.0 50.0,266.0" fill="#d5d5d5"/>
<polygon points="50.0,100.0 120.0,100.0 160.0,110.0 200.0,100.0 266.0,110.0 266.0,266.0 50.0,266.0" fill="#dbdbdb"/>
<polygon points="50.0,19.0 110.0,19.0 95.0,35.0 70.0,45.0 50.0,50.0" fill="#c8c8c8"/>
<polygon points="230.2,21.0 266.0,21.0 266.0,65.8 260.7,63.7 256.6,55.6 260.7,49.5 254.6,39.3 244.4,35.3 236.3,33.2 230.2,27.1" fill="#eeeeee"/>
<polygon points="181.4,19.0 193.6,19.0 189.6,39.3 185.5,59.7 181.4,75.9 179.4,88.1 175.3,90.2 175.3,80.0 179.4,59.7 183.5,39.3" fill="#b8bca4"/>
<polygon points="189.6,96.3 201.8,88.1 211.9,86.1 222.1,82.0 230.2,80.0 228.2,88.1 216.0,96.3 209.9,104.4 207.9,114.5 211.9,124.7 216.0,132.8 214.0,142.0 203.8,142.0 199.7,132.8 193.6,124.7 189.6,114.5" fill="#b8bca4"/>
<polygon points="50.0,151.1 63.4,153.3 76.8,155.5 90.2,157.8 94.6,164.5 99.1,173.4 101.3,182.3 103.5,191.2 108.0,195.7 116.9,202.4 121.4,206.9 123.6,215.8 125.9,224.7 130.3,229.2 139.2,231.4 145.9,233.6 152.6,235.9 160.0,235.9 155.0,227.0 168.4,224.8 177.3,220.3 188.5,224.8 199.7,229.3 213.1,231.5 222.0,229.3 228.7,222.6 233.2,215.9 239.9,209.2 248.8,202.5 253.3,195.8 257.7,191.3 266.0,186.8 266.0,266.1 155.0,266.1 50.0,266.0" fill="#ffffff"/>
<polygon points="50.0,151.1 63.4,153.3 76.8,155.5 90.2,157.8 94.6,164.5 83.5,166.7 72.3,162.2 61.2,160.0 50.0,157.8" fill="#d7d7d7"/>
<polygon points="230.9,139.9 244.3,135.5 266.0,131.0 266.0,164.5 260.0,157.8 255.5,153.3 246.6,157.8 239.9,153.3 235.4,144.4" fill="#ffffff"/>
<polygon points="83.5,142.2 94.6,139.9 116.9,135.5 139.2,137.7 160.0,139.9 155.0,139.9 177.3,135.5 199.7,133.2 210.8,131.0 230.9,139.9 235.4,144.4 239.9,153.3 246.6,157.8 255.5,153.3 262.2,153.3 260.0,157.8 255.5,166.7 248.8,175.7 251.0,186.8 257.7,191.3 253.3,195.8 248.8,202.5 239.9,209.2 233.2,215.9 228.7,222.6 222.0,229.3 213.1,231.5 199.7,229.3 188.5,224.8 177.3,220.3 168.4,224.8 155.0,227.0 160.0,235.9 152.6,235.9 145.9,233.6 139.2,231.4 130.3,229.2 125.9,224.7 123.6,215.8 121.4,206.9 116.9,202.4 108.0,195.7 103.5,191.2 101.3,182.3 99.1,173.4 94.6,164.5 92.4,153.3 87.9,146.6" fill="#b8bca4"/>
<polygon points="199.7,202.5 222.0,198.0 228.7,204.7 226.5,220.3 217.5,229.3 204.1,227.0 197.4,215.9" fill="#c6c9b6"/>
<polygon points="217.5,144.4 228.7,148.9 230.9,171.2 224.2,175.7 217.5,164.5" fill="#c9cdb8"/>
<polygon points="215.7,122.7 225.6,118.7 237.5,116.8 245.4,114.8 247.4,110.8 255.3,98.9 259.3,91.0 266.0,91.0 266.0,170.3 259.3,166.3 253.3,160.3 245.4,158.4 239.4,152.4 235.5,148.5 231.5,144.5 227.6,142.5 223.6,140.5 219.6,136.6 215.7,130.6" fill="#ffffff"/>
<polygon points="222.3,153.1 232.7,153.1 235.7,166.5 234.2,172.4 225.3,172.4 222.3,166.5" fill="#e4e4e4"/>
<polygon points="98.2,157.8 114.5,145.5 141.1,143.5 151.3,153.7 171.7,161.9 182.0,168.0 192.2,176.2 204.4,182.3 216.7,188.4 230.0,190.5 230.0,202.7 212.6,198.7 200.4,202.7 196.3,210.9 188.1,219.1 175.8,227.3 161.5,231.4 147.2,235.4 135.0,231.4 124.7,223.2 114.5,206.8 106.3,194.6 102.3,182.3 98.2,170.0" fill="#8e9570"/>
<polygon points="196.0,170.0 205.0,172.0 206.0,180.0 198.0,180.0" fill="#8e9570"/>
<polygon points="215.0,158.0 225.0,165.0 222.0,172.0 214.0,168.0" fill="#8e9570"/>
<polygon points="110.4,178.2 130.9,174.1 151.3,172.1 171.7,178.2 186.1,188.4 188.1,198.7 175.8,206.8 167.7,217.1 151.3,223.2 141.1,223.2 126.8,217.1 118.6,206.8 110.4,190.5" fill="#686f3e"/>
<polygon points="106.0,186.0 118.0,182.0 130.0,184.0 140.0,190.0 148.0,198.0 155.0,206.0 156.0,215.0 150.0,222.0 140.0,224.0 128.0,221.0 118.0,214.0 112.0,204.0 106.0,195.0" fill="#434a10"/>
<polygon points="118.0,150.0 126.0,148.0 124.0,170.0 117.0,170.0" fill="#b8bca4"/>
<use href="#mapcommon"/>
</g>
<g stroke="#707070" stroke-width="1">
<line x1="50.5" y1="64" x2="55" y2="64"/>
<line x1="50.5" y1="139.5" x2="55" y2="139.5"/>
<line x1="50.5" y1="207" x2="55" y2="207"/>
<line x1="74.5" y1="265.5" x2="74.5" y2="261" stroke="#b0b0b0"/>
<line x1="128.7" y1="265.5" x2="128.7" y2="261" stroke="#b0b0b0"/>
<line x1="183" y1="265.5" x2="183" y2="261" stroke="#b0b0b0"/>
<line x1="237.3" y1="265.5" x2="237.3" y2="261" stroke="#b0b0b0"/>
</g>
<path d="M50.5,265.5 V19.5 H265.5 V265.5" fill="none" stroke="#707070" stroke-width="1"/>
<line x1="50.5" y1="264.9" x2="265.5" y2="264.9" stroke="#c0c0c0" stroke-width="1.2"/>
<text x="45" y="67.2" font-size="9" text-anchor="end" fill="#2b2b2b">50° N</text>
<text x="45" y="143.2" font-size="9" text-anchor="end" fill="#2b2b2b">40° N</text>
<text x="45" y="210.2" font-size="9" text-anchor="end" fill="#2b2b2b">30° N</text>
<text x="45" y="269.2" font-size="9" text-anchor="end" fill="#2b2b2b">20° N</text>
<text x="75.2" y="277.6" font-size="8.8" text-anchor="middle" fill="#2b2b2b">100° E</text>
<text x="129.3" y="277.6" font-size="8.8" text-anchor="middle" fill="#2b2b2b">110° E</text>
<text x="183.1" y="277.6" font-size="8.8" text-anchor="middle" fill="#2b2b2b">120° E</text>
<text x="237" y="277.6" font-size="8.8" text-anchor="middle" fill="#2b2b2b">130° E</text>
<text x="133.0" y="292.8" font-size="10.4" textLength="49.2" lengthAdjust="spacingAndGlyphs" fill="#2b2b2b">Longitude</text>
<text transform="translate(9.1,161.9) rotate(-90)" font-size="10.4" textLength="39.6" lengthAdjust="spacingAndGlyphs" fill="#2b2b2b">Latitude</text>
<rect x="275.5" y="19.60" width="21.5" height="30.89" fill="#434a10"/>
<rect x="275.5" y="50.19" width="21.5" height="30.89" fill="#686f3e"/>
<rect x="275.5" y="80.78" width="21.5" height="30.89" fill="#8e9570"/>
<rect x="275.5" y="111.36" width="21.5" height="30.89" fill="#b8bca4"/>
<rect x="275.5" y="141.95" width="21.5" height="30.89" fill="#e1e1e1"/>
<rect x="275.5" y="172.54" width="21.5" height="30.89" fill="#d7d7d7"/>
<rect x="275.5" y="203.12" width="21.5" height="30.89" fill="#cdcdcd"/>
<rect x="275.5" y="233.71" width="21.5" height="30.89" fill="#c2c2c2"/>
<rect x="275.5" y="19.6" width="21.5" height="244.7" fill="none" stroke="#505050" stroke-width="1"/>
<line x1="294.5" y1="50.19" x2="297" y2="50.19" stroke="#505050" stroke-width="1"/>
<line x1="294.5" y1="80.78" x2="297" y2="80.78" stroke="#505050" stroke-width="1"/>
<line x1="294.5" y1="111.36" x2="297" y2="111.36" stroke="#505050" stroke-width="1"/>
<line x1="294.5" y1="141.95" x2="297" y2="141.95" stroke="#505050" stroke-width="1"/>
<line x1="294.5" y1="172.54" x2="297" y2="172.54" stroke="#505050" stroke-width="1"/>
<line x1="294.5" y1="203.12" x2="297" y2="203.12" stroke="#505050" stroke-width="1"/>
<line x1="294.5" y1="233.71" x2="297" y2="233.71" stroke="#505050" stroke-width="1"/>
<text x="302" y="22.50" font-size="9.3" fill="#2b2b2b">5.8</text>
<text x="302" y="53.09" font-size="9.3" fill="#2b2b2b">3.9</text>
<text x="302" y="83.68" font-size="9.3" fill="#2b2b2b">2.6</text>
<text x="302" y="114.26" font-size="9.3" fill="#2b2b2b">1.7</text>
<text x="302" y="144.85" font-size="9.3" fill="#2b2b2b">1.2</text>
<text x="302" y="175.44" font-size="9.3" fill="#2b2b2b">0.8</text>
<text x="302" y="206.03" font-size="9.3" fill="#2b2b2b">0.5</text>
<text x="302" y="236.61" font-size="9.3" fill="#2b2b2b">0.3</text>
<text x="302" y="267.20" font-size="9.3" fill="#2b2b2b">0.2</text>
<text transform="translate(324.0,49.3) rotate(90)" font-size="10.4" textLength="186.6" lengthAdjust="spacingAndGlyphs" fill="#2b2b2b">Mass concentration at Beijing (μg m<tspan font-size="7" dy="-3.5">−3</tspan><tspan dy="3.5">)</tspan></text>
</g>
</svg></body></html>
